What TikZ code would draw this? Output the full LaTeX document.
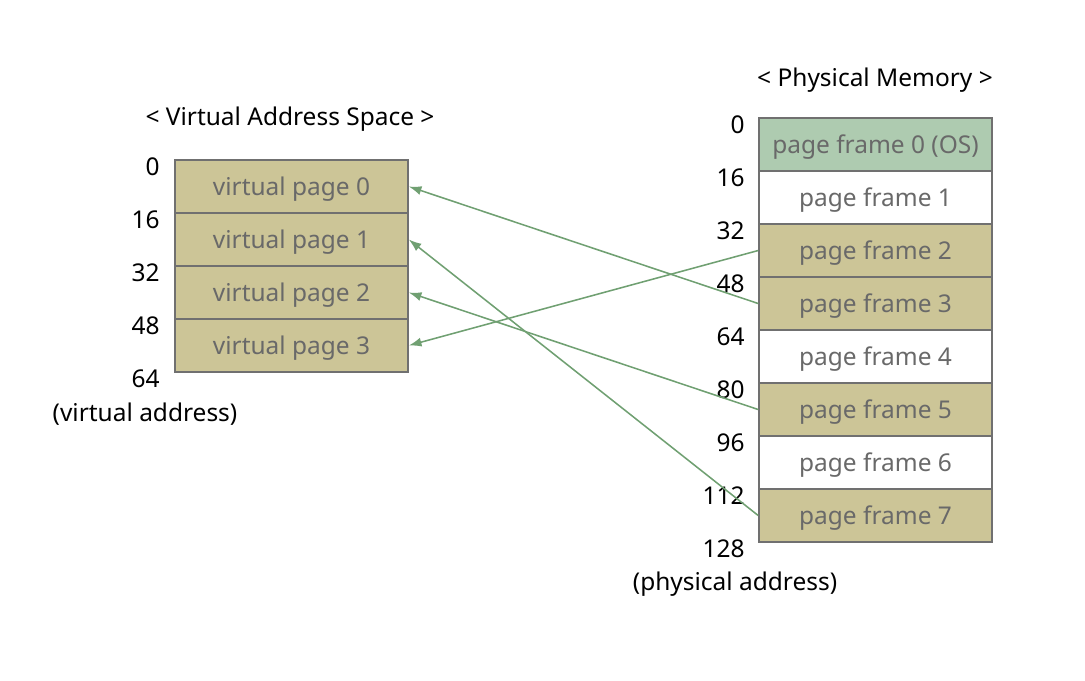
\documentclass[tikz,border=0pt]{standalone}
\usepackage{fontspec}
\setmainfont{Noto Sans}
\usetikzlibrary{arrows.meta}
\definecolor{pagetan}{RGB}{204,197,151}
\definecolor{osgreen}{RGB}{174,203,176}
\definecolor{linkgreen}{RGB}{112,160,114}
\definecolor{boxline}{RGB}{112,112,112}
\definecolor{boxtext}{RGB}{105,105,105}
\tikzset{
  page/.style={draw=boxline,line width=1.1pt,minimum width=5.825cm,minimum height=1.325cm,
    inner sep=0pt,text=boxtext,text height=1.25em,text depth=0pt,
    font=\fontsize{17.4}{20}\selectfont},
  used/.style={page,fill=pagetan},
  free/.style={page,fill=white},
  osframe/.style={page,fill=osgreen},
  addr/.style={anchor=east,inner sep=0pt,font=\fontsize{17.4}{20}\selectfont},
  caption/.style={inner sep=0pt,font=\fontsize{17.4}{20}\selectfont},
  map/.style={draw=linkgreen,line width=1.1pt,-{Latex[length=9pt,width=6.5pt]}}
}
\begin{document}
\begin{tikzpicture}[x=0.025cm,y=-0.025cm]
      \useasboundingbox (0,0) rectangle (1085,680);
      \draw
        (291.5,186.5) node[used] (v0){virtual page 0}
        (291.5,239.5) node[used] (v1){virtual page 1}
        (291.5,292.5) node[used] (v2){virtual page 2}
        (291.5,345.5) node[used] (v3){virtual page 3};
      \draw
        (875.5,144.5) node[osframe] (f0){page frame 0 (OS)}
        (875.5,197.5) node[free] (f1){page frame 1}
        (875.5,250.5) node[used] (f2){page frame 2}
        (875.5,303.5) node[used] (f3){page frame 3}
        (875.5,356.5) node[free] (f4){page frame 4}
        (875.5,409.5) node[used] (f5){page frame 5}
        (875.5,462.5) node[free] (f6){page frame 6}
        (875.5,515.5) node[used] (f7){page frame 7};
      % titles and addresses
      \draw
        (290,119) node[caption] (vtitle){< Virtual Address Space >}
        (875,80) node[caption] (ptitle){< Physical Memory >}
        (145,414) node[caption] (vaddr){(virtual address)}
        (735,584) node[caption] (paddr){(physical address)};
      \draw
        (160,167) node[addr] (va0){0}
        (160,220) node[addr] (va1){16}
        (160,273) node[addr] (va2){32}
        (160,326) node[addr] (va3){48}
        (160,379) node[addr] (va4){64};
      \draw
        (745,125) node[addr] (pa0){0}
        (745,178) node[addr] (pa1){16}
        (745,231) node[addr] (pa2){32}
        (745,284) node[addr] (pa3){48}
        (745,337) node[addr] (pa4){64}
        (745,390) node[addr] (pa5){80}
        (745,443) node[addr] (pa6){96}
        (745,496) node[addr] (pa7){112}
        (745,549) node[addr] (pa8){128};
      \begin{scope}[map]
        \draw (f3.west) to (v0.east);
        \draw (f7.west) to (v1.east);
        \draw (f5.west) to (v2.east);
        \draw (f2.west) to (v3.east);
      \end{scope}
    \end{tikzpicture}
\end{document}
